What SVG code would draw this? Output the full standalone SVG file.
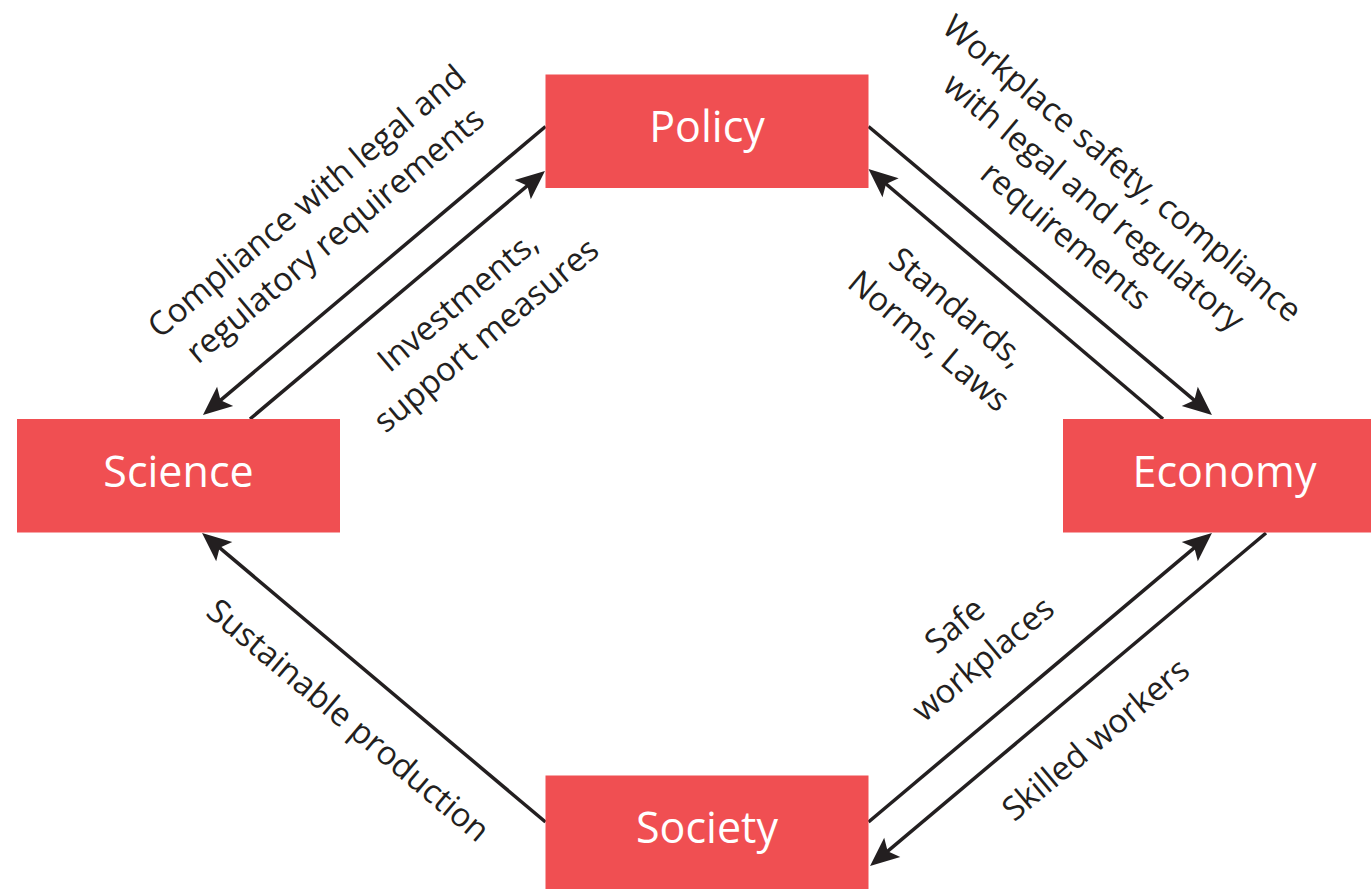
<svg xmlns="http://www.w3.org/2000/svg" width="1371" height="889" viewBox="0 0 1371 889">
<style>
.box{fill:#F04F52;}
.nt{font-family:"Open Sans","Noto Sans","DejaVu Sans",sans-serif;font-size:43px;fill:#FFFFFF;text-anchor:middle;}
.lb{font-family:"Open Sans","Noto Sans","DejaVu Sans",sans-serif;font-size:33px;fill:#231F20;text-anchor:middle;}
.cn{stroke:#231F20;stroke-width:3.5;fill:none;marker-end:url(#ah);}
</style>
<defs>
<marker id="ah" markerUnits="userSpaceOnUse" viewBox="-22 -14 34 28" markerWidth="34" markerHeight="28" refX="0" refY="0" orient="auto" overflow="visible">
<path d="M10,0 L-19,-12.5 L-13,0 L-19,12.5 Z" fill="#231F20"/>
</marker>
</defs>
<rect width="1371" height="889" fill="#FFFFFF"/>
<g id="connectors">
<line class="cn" x1="545.5" y1="126.5" x2="210.6" y2="408.6"/>
<line class="cn" x1="250" y1="419" x2="537.3" y2="177.4"/>
<line class="cn" x1="868.5" y1="126.5" x2="1204.3" y2="408.6"/>
<line class="cn" x1="1163" y1="419" x2="876.1" y2="175.5"/>
<line class="cn" x1="545.5" y1="822" x2="209.7" y2="539.4"/>
<line class="cn" x1="868.5" y1="822" x2="1204.3" y2="539.4"/>
<line class="cn" x1="1266" y1="533" x2="877.7" y2="859.6"/>
</g>
<g id="labels">
<text class="lb" transform="translate(314,210) rotate(-40)"><tspan x="0" y="0">Compliance with legal and</tspan><tspan x="0" y="44">regulatory requirements</tspan></text>
<text class="lb" transform="translate(465,310) rotate(-40)"><tspan x="0" y="0">Investments,</tspan><tspan x="0" y="44">support measures</tspan></text>
<text class="lb" transform="translate(1115,177) rotate(40)"><tspan x="0" y="0">Workplace safety, compliance</tspan><tspan x="0" y="44">with legal and regulatory</tspan><tspan x="0" y="88">requirements</tspan></text>
<text class="lb" transform="translate(950,316) rotate(40)"><tspan x="0" y="0">Standards,</tspan><tspan x="0" y="44">Norms, Laws</tspan></text>
<text class="lb" transform="translate(341,729) rotate(40)">Sustainable production</text>
<text class="lb" transform="translate(962,634) rotate(-40)"><tspan x="0" y="0">Safe</tspan><tspan x="0" y="44">workplaces</tspan></text>
<text class="lb" transform="translate(1103,748) rotate(-40)">Skilled workers</text>
</g>
<g id="policy"><rect class="box" x="545.5" y="74.5" width="323" height="113.5"/><text class="nt" x="707" y="142">Policy</text></g>
<g id="science"><rect class="box" x="17" y="419" width="323" height="113.5"/><text class="nt" x="178.5" y="486.5">Science</text></g>
<g id="economy"><rect class="box" x="1063" y="419" width="323" height="113.5"/><text class="nt" x="1224.5" y="486.5">Economy</text></g>
<g id="society"><rect class="box" x="545.5" y="775.5" width="323" height="113.5"/><text class="nt" x="707" y="843">Society</text></g>
</svg>
